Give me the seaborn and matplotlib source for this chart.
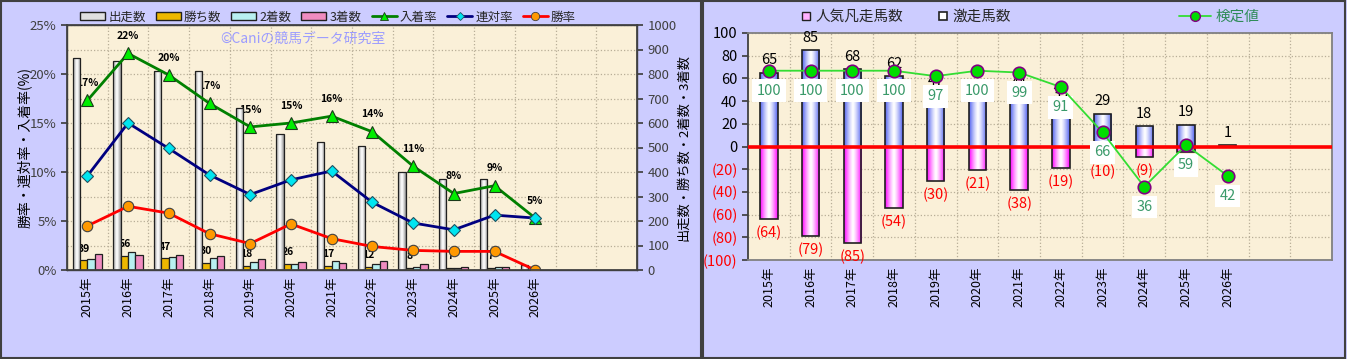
import numpy as np
import pandas as pd
import matplotlib
matplotlib.use("Agg")
import matplotlib.pyplot as plt
import seaborn as sns
from matplotlib.patches import Patch, Rectangle
from matplotlib.lines import Line2D

# ---------------- data ----------------
years = ['2015年', '2016年', '2017年', '2018年', '2019年', '2020年',
         '2021年', '2022年', '2023年', '2024年', '2025年', '2026年']
empty_slots = ['_e1', '_e2']

runs    = [865, 854, 812, 812, 662, 555, 524, 507, 399, 370, 371, 19]
wins    = [39, 56, 47, 30, 18, 26, 17, 12, 8, 7, 7, 0]
seconds = [44, 72, 53, 49, 33, 25, 36, 23, 11, 8, 14, 1]
thirds  = [67, 60, 61, 59, 45, 32, 29, 37, 23, 14, 11, 0]

place_rate    = [17.3, 22.1, 19.9, 17.0, 14.6, 15.0, 15.7, 14.1, 10.6, 7.8, 8.6, 5.3]
quinella_rate = [9.6, 15.0, 12.4, 9.7, 7.7, 9.2, 10.1, 6.9, 4.8, 4.1, 5.6, 5.3]
win_rate      = [4.5, 6.5, 5.8, 3.7, 2.7, 4.7, 3.2, 2.4, 2.0, 1.9, 1.9, 0.0]

gekisou = [65, 85, 68, 62, 47, 40, 44, 35, 29, 18, 19, 1]      # 激走馬数
bonsou  = [64, 79, 85, 54, 30, 21, 38, 19, 10, 9, 5, 0]        # 人気凡走馬数
kentei  = [100, 100, 100, 100, 97, 100, 99, 91, 66, 36, 59, 42]  # 検定値

series_names = ['出走数', '勝ち数', '2着数', '3着数']

# ---------------- style ----------------
sns.set_theme(style='white')
plt.rcParams['font.family'] = ['Noto Sans CJK JP', 'DejaVu Sans']
plt.rcParams['axes.unicode_minus'] = False

W, H = 1347, 359
BG = '#CCCCFF'
PLOT_BG = '#FAF0D8'
GRID = '#B8AE98'

fig = plt.figure(figsize=(W / 100, H / 100), dpi=100, facecolor=BG)

# panel borders
fig.add_artist(Rectangle((1 / W, 1 / H), 700 / W, 357 / H, transform=fig.transFigure,
                         fill=False, edgecolor='#404040', lw=1.5))
fig.add_artist(Rectangle((703 / W, 1 / H), 642 / W, 357 / H, transform=fig.transFigure,
                         fill=False, edgecolor='#404040', lw=1.5))

cats = years + empty_slots
pos = np.arange(len(years))


def grad_fill(ax, patch, edge_rgb, z):
    x0, y0 = patch.get_x(), patch.get_y()
    w, h = patch.get_width(), patch.get_height()
    if h == 0:
        return
    n = 64
    t = np.linspace(0, 1, n)
    prof = np.abs(2 * t - 1) ** 1.3
    edge = np.array(matplotlib.colors.to_rgb(edge_rgb))
    center = np.array([1.0, 1.0, 1.0])
    img = center[None, :] + (edge - center)[None, :] * prof[:, None]
    im = ax.imshow(img[None, :, :], extent=[x0, x0 + w, y0, y0 + h], aspect='auto',
                   zorder=z, interpolation='bilinear')
    im.set_clip_path(patch)
    patch.set_facecolor('none')


# ================= LEFT CHART =================
axB = fig.add_axes([67 / W, 1 - 270 / H, 570 / W, 245 / H])
axB.set_facecolor(PLOT_BG)
axL = axB.twinx()

df_left = pd.DataFrame({
    '年': np.tile(years, 4),
    '系列': np.repeat(series_names, len(years)),
    '値': np.concatenate([runs, wins, seconds, thirds]),
})
palette = {'出走数': '#E8E8E8', '勝ち数': '#EEB800', '2着数': '#B8F0F0', '3着数': '#F08CC0'}
sns.barplot(data=df_left, x='年', y='値', hue='系列', order=cats, hue_order=series_names,
            palette=palette, width=0.72, gap=0, edgecolor='#202020', linewidth=0.9,
            saturation=1, errorbar=None, legend=False, ax=axB)

for cont in axB.containers:
    for p in cont:
        p.set_zorder(2)
for p in axB.containers[0]:
    grad_fill(axB, p, '#8C8C8C', 1.9)

sns.lineplot(x=pos, y=place_rate, ax=axL, color='#008000', lw=2, marker='^', markersize=9,
             markerfacecolor='#00EE00', markeredgecolor='#1A3A1A', markeredgewidth=0.8)
sns.lineplot(x=pos, y=quinella_rate, ax=axL, color='#000080', lw=2, marker='D', markersize=6,
             markerfacecolor='#00E5F0', markeredgecolor='#205060', markeredgewidth=0.8)
sns.lineplot(x=pos, y=win_rate, ax=axL, color='#FF0000', lw=2, marker='o', markersize=7.5,
             markerfacecolor='#FF9900', markeredgecolor='#404040', markeredgewidth=0.8)

# bar (count) axis -> right side
axB.set_xlim(-0.5, len(cats) - 0.5)
axB.set_ylim(0, 1000)
axB.set_yticks(np.arange(0, 1001, 100))
axB.yaxis.tick_right()
axB.yaxis.set_label_position('right')
axB.set_ylabel('出走数・勝ち数・2着数・3着数', fontsize=9.5, color='#000000')
axB.yaxis.set_label_coords(1.070, 0.5)
axB.set_xlabel('')
axB.set_xticks(np.arange(len(cats)))
axB.set_xticklabels(years + ['', ''], rotation=90, fontsize=9, color='#000000')
axB.tick_params(axis='x', length=0, pad=5)
axB.tick_params(axis='y', which='both', right=True, left=False, labelright=True, labelleft=False,
                length=4, direction='out', labelsize=9.5, labelcolor='#404040', color='#404040')
axB.set_axisbelow(True)
axB.grid(axis='y', color=GRID, ls=':', lw=0.9)
axB.set_xticks(np.arange(0.5, len(cats) - 0.5, 1), minor=True)
axB.grid(axis='x', which='minor', color=GRID, ls=':', lw=0.9)
axB.tick_params(axis='x', which='minor', length=0)
for s in axB.spines.values():
    s.set_color('#404040')
    s.set_linewidth(1.0)

# rate axis -> left side
axL.set_xlim(-0.5, len(cats) - 0.5)
axL.set_ylim(0, 25)
axL.yaxis.tick_left()
axL.yaxis.set_label_position('left')
axL.set_yticks(np.arange(0, 26, 5))
axL.set_yticklabels([f'{v}%' for v in range(0, 26, 5)])
axL.tick_params(axis='y', left=True, right=False, labelleft=True, labelright=False,
                length=4, direction='out', labelsize=9.5, labelcolor='#404040', color='#404040')
axL.set_ylabel('勝率・連対率・入着率(%)', fontsize=10, color='#000000')
axL.yaxis.set_label_coords(-0.062, 0.5)
axL.set_xlabel('')
for s in axL.spines.values():
    s.set_color('#404040')

# data labels (drawn beneath the tall bars, as in the original)
for i, v in enumerate(place_rate):
    axB.annotate(f'{round(v)}%', xy=(i, v), xycoords=axL.transData, xytext=(0, 12.5),
                 textcoords='offset points', ha='center', va='center', fontsize=7.5,
                 fontweight='bold', color='#000000', zorder=1.5)
for i, v in enumerate(wins):
    if v > 0:
        axB.annotate(str(v), xy=(i - 0.09, v), xytext=(0, 8.5), textcoords='offset points',
                     ha='center', va='center', fontsize=7.5, fontweight='bold',
                     color='#000000', zorder=1.5)

axB.text((220 - 67) / 570, (270 - 39) / 245, '©Caniの競馬データ研究室', transform=axB.transAxes,
         ha='left', va='center', fontsize=10, color='#9C9CFF', zorder=1.5)

left_handles = [
    Patch(facecolor='#E0E0E0', edgecolor='#202020'),
    Patch(facecolor='#EEB800', edgecolor='#202020'),
    Patch(facecolor='#B8F0F0', edgecolor='#202020'),
    Patch(facecolor='#F08CC0', edgecolor='#202020'),
    Line2D([], [], color='#008000', lw=2, marker='^', markersize=6,
           markerfacecolor='#00EE00', markeredgecolor='#1A3A1A', markeredgewidth=0.6),
    Line2D([], [], color='#000080', lw=2, marker='D', markersize=4.5,
           markerfacecolor='#00E5F0', markeredgecolor='#205060', markeredgewidth=0.6),
    Line2D([], [], color='#FF0000', lw=2, marker='o', markersize=6,
           markerfacecolor='#FF9900', markeredgecolor='#404040', markeredgewidth=0.6),
]
left_labels = series_names + ['入着率', '連対率', '勝率']
fig.legend(left_handles, left_labels, loc='center', bbox_to_anchor=(328 / W, 1 - 17 / H),
           ncol=7, frameon=False, fontsize=9, handlelength=2.0, handleheight=0.55,
           handletextpad=0.25, columnspacing=0.8, borderaxespad=0, borderpad=0)

# ================= RIGHT CHART =================
axR = fig.add_axes([748 / W, 1 - 260 / H, 584 / W, 227 / H])
axR.set_facecolor(PLOT_BG)
axRt = axR.twinx()

df_pos = pd.DataFrame({'年': years, '値': gekisou})
df_neg = pd.DataFrame({'年': years, '値': [-v for v in bonsou]})
sns.barplot(data=df_pos, x='年', y='値', order=cats, color='#6070F0', width=0.42,
            edgecolor='#202020', linewidth=1.2, saturation=1, errorbar=None, ax=axR)
sns.barplot(data=df_neg, x='年', y='値', order=cats, color='#FF00FF', width=0.42,
            edgecolor='#202020', linewidth=1.2, saturation=1, errorbar=None, ax=axR)
for p in axR.containers[0]:
    p.set_zorder(2)
    grad_fill(axR, p, '#5060F0', 1.9)
for p in axR.containers[1]:
    p.set_zorder(2)
    grad_fill(axR, p, '#FF00FF', 1.9)

axR.set_xlim(-0.5, len(cats) - 0.5)
axR.set_ylim(-100, 100)
rt = np.arange(-100, 101, 20)
axR.set_yticks(rt)
axR.set_yticklabels([str(v) if v >= 0 else f'({-v})' for v in rt])
for v, lab in zip(rt, axR.get_yticklabels()):
    lab.set_color('#FF0000' if v < 0 else '#000000')
axR.yaxis.tick_left()
axR.tick_params(axis='y', left=True, right=False, labelleft=True, labelright=False,
                length=4, direction='out', labelsize=10.5, color='#404040')
axR.set_xticks(np.arange(len(cats)))
axR.set_xticklabels(years + ['', ''], rotation=90, fontsize=9, color='#000000')
axR.tick_params(axis='x', length=0, pad=5)
axR.set_xlabel('')
axR.set_ylabel('')
axR.set_axisbelow(True)
axR.grid(axis='y', color=GRID, ls=':', lw=0.9)
axR.set_xticks(np.arange(0.5, len(cats) - 0.5, 1), minor=True)
axR.grid(axis='x', which='minor', color=GRID, ls=':', lw=0.9)
axR.tick_params(axis='x', which='minor', length=0)
for s in axR.spines.values():
    s.set_color('#808080')
    s.set_linewidth(1.3)
axR.spines['left'].set_color('#404040')
axR.axhline(0, color='#FF0000', lw=2.6, zorder=3)

for i, v in enumerate(gekisou):
    if v > 0:
        axR.annotate(str(v), xy=(i, v), xytext=(0, 9), textcoords='offset points',
                     ha='center', va='center', fontsize=10.5, color='#000000', zorder=4)
for i, v in enumerate(bonsou):
    if v > 0:
        axR.annotate(f'({v})', xy=(i, -v), xytext=(0, -10), textcoords='offset points',
                     ha='center', va='center', fontsize=10.5, color='#FF0000', zorder=4)

sns.lineplot(x=pos, y=kentei, ax=axRt, color='#33DD33', lw=1.3, marker='o', markersize=9,
             markerfacecolor='#00DD00', markeredgecolor='#800080', markeredgewidth=1.2, zorder=3)
axRt.set_xlim(-0.5, len(cats) - 0.5)
axRt.set_ylim(-4.4, 120.8)
axRt.set_yticks([])
axRt.set_ylabel('')
axRt.set_xlabel('')
for s in axRt.spines.values():
    s.set_visible(False)
for i, v in enumerate(kentei):
    axRt.annotate(str(v), xy=(i, v), xytext=(0, -14.5), textcoords='offset points',
                  ha='center', va='center', fontsize=10.5, color='#3A9A6A', zorder=2.5,
                  bbox=dict(boxstyle='square,pad=0.3', fc='white', ec='none'))

r_handles = [
    Line2D([], [], marker='s', ls='none', markersize=6, markerfacecolor='#FFB0FF',
           markeredgecolor='#202020', markeredgewidth=1.0),
    Line2D([], [], marker='s', ls='none', markersize=6, markerfacecolor='#FFFFFF',
           markeredgecolor='#202020', markeredgewidth=1.2),
]
fig.legend(r_handles, ['人気凡走馬数', '激走馬数'], loc='center',
           bbox_to_anchor=(906 / W, 1 - 17 / H), ncol=2, frameon=False, fontsize=10.5,
           handlelength=0.7, handletextpad=0.3, columnspacing=2.4, borderaxespad=0, borderpad=0)
lg3 = fig.legend([Line2D([], [], color='#33DD33', lw=1.3, marker='o', markersize=7,
                         markerfacecolor='#00DD00', markeredgecolor='#800080',
                         markeredgewidth=1.0)],
                 ['検定値'], loc='center', bbox_to_anchor=(1219 / W, 1 - 17 / H),
                 frameon=False, fontsize=10.5, handlelength=2.2, handletextpad=0.3,
                 borderaxespad=0, borderpad=0)
for t in lg3.get_texts():
    t.set_color('#2E8B57')

fig.savefig('out.png', dpi=100, facecolor=BG)
